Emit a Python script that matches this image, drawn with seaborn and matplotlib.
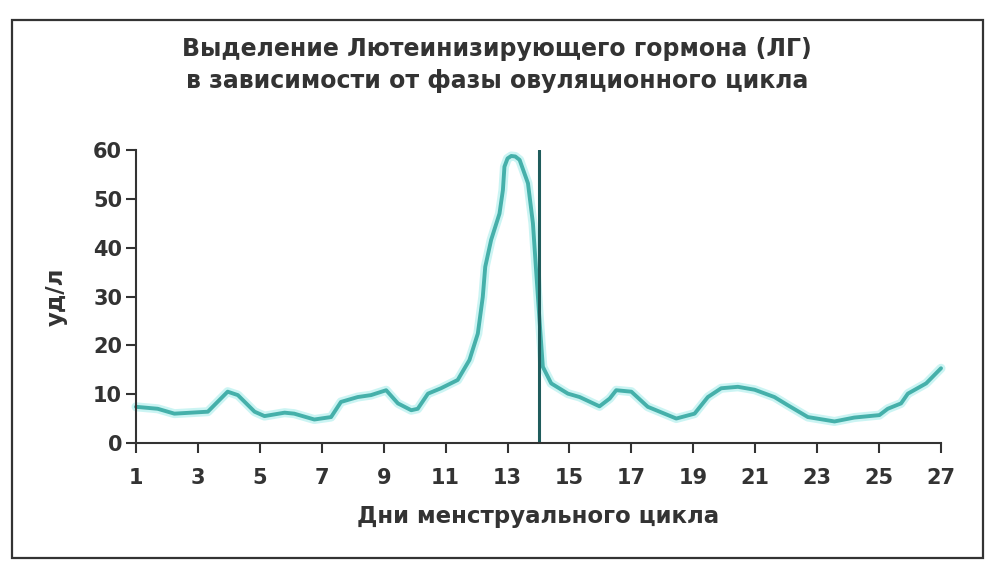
import numpy as np
import pandas as pd
import matplotlib
matplotlib.use("Agg")
import matplotlib.pyplot as plt
import seaborn as sns
from matplotlib.patches import Rectangle

# --- dados ---
dias = [1.0, 1.7, 2.24, 3.32, 3.96, 4.29, 4.83, 5.15, 5.8, 6.11, 6.76, 7.3, 7.62,
        8.16, 8.59, 9.08, 9.46, 9.89, 10.1, 10.43, 10.85, 11.39, 11.77, 12.04,
        12.2, 12.28, 12.47, 12.74, 12.85, 12.9, 13.0, 13.12, 13.25, 13.39,
        13.66, 13.82, 13.93, 14.04, 14.14, 14.41, 14.95, 15.33, 15.97, 16.3,
        16.51, 17.0, 17.53, 18.45, 19.04, 19.47, 19.9, 20.44, 20.98, 21.62,
        22.06, 22.7, 23.56, 24.2, 25.01, 25.28, 25.71, 25.93, 26.52, 27.0]
lh = [7.4, 7.0, 6.0, 6.4, 10.5, 9.8, 6.4, 5.5, 6.2, 6.0, 4.8, 5.3, 8.4,
      9.4, 9.8, 10.8, 8.1, 6.7, 7.0, 10.1, 11.2, 12.9, 17.0, 22.4,
      29.9, 36.1, 41.6, 47.0, 51.8, 56.6, 58.3, 58.8, 58.7, 58.0,
      53.2, 45.0, 34.7, 24.5, 15.6, 12.2, 10.1, 9.4, 7.5, 9.1,
      10.8, 10.5, 7.4, 5.0, 6.0, 9.4, 11.2, 11.5, 10.9, 9.4,
      7.7, 5.3, 4.4, 5.2, 5.7, 7.0, 8.1, 10.1, 12.2, 15.3]
dia_ovulacao = 14
ticks_x = list(range(1, 28, 2))
ticks_y = [0, 10, 20, 30, 40, 50, 60]

titulo = "Выделение Лютеинизирующего гормона (ЛГ)\nв зависимости от фазы овуляционного цикла"
rotulo_x = "Дни менструального цикла"
rotulo_y = "уд/л"

df = pd.DataFrame({"dia": dias, "lh": lh})

sns.set_theme(style="ticks")
plt.rcParams["font.family"] = ["DejaVu Sans"]
plt.rcParams["lines.solid_joinstyle"] = "round"
plt.rcParams["lines.solid_capstyle"] = "round"

fig = plt.figure(figsize=(10, 5.73), dpi=100)
fig.patch.set_facecolor("white")
ax = fig.add_axes([0.136, 0.227, 0.805, 0.511])

# moldura externa
fig.patches.append(Rectangle((0.012, 0.026), 0.971, 0.939, transform=fig.transFigure,
                             fill=False, edgecolor="#333333", linewidth=1.6))

# brilho claro em volta da curva
sns.lineplot(data=df, x="dia", y="lh", ax=ax, color="#b5f0ee", linewidth=6.5,
             alpha=0.7, clip_on=False)
sns.lineplot(data=df, x="dia", y="lh", ax=ax, color="#45b0aa", linewidth=2.8,
             clip_on=False)
ax.axvline(dia_ovulacao, ymin=0, ymax=1, color="#1f5c5c", linewidth=2.2)

ax.set_xlim(1, 27)
ax.set_ylim(0, 60)
ax.set_xticks(ticks_x)
ax.set_yticks(ticks_y)
ax.tick_params(axis="both", direction="out", length=7, width=1.5, color="#333333",
               labelsize=15, labelcolor="#333333", pad=3)
ax.tick_params(axis="x", pad=11)
for lbl in ax.get_xticklabels() + ax.get_yticklabels():
    lbl.set_fontweight("bold")

for s in ["top", "right"]:
    ax.spines[s].set_visible(False)
for s in ["left", "bottom"]:
    ax.spines[s].set_color("#333333")
    ax.spines[s].set_linewidth(1.5)

ax.set_xlabel(rotulo_x, fontsize=16.5, fontweight="bold", color="#333333", labelpad=12)
ax.set_ylabel(rotulo_y, fontsize=16.5, fontweight="bold", color="#333333", labelpad=18)

fig.text(0.497, 0.887, titulo, ha="center", va="center", fontsize=17,
         fontweight="bold", color="#333333", linespacing=1.4)

fig.savefig("out.png", dpi=100)
